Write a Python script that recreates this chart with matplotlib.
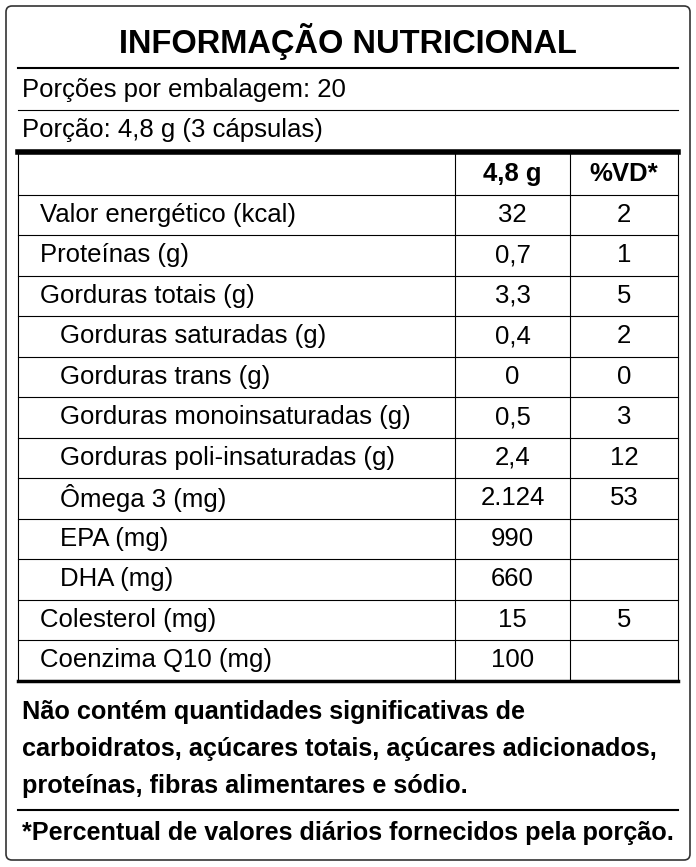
import matplotlib.pyplot as plt
from matplotlib.patches import FancyBboxPatch

plt.rcParams['font.family'] = ['Liberation Sans', 'DejaVu Sans']

title = "INFORMAÇÃO NUTRICIONAL"
servings = "Porções por embalagem: 20"
portion = "Porção: 4,8 g (3 cápsulas)"
headers = ["4,8 g", "%VD*"]
items = ["Valor energético (kcal)", "Proteínas (g)", "Gorduras totais (g)",
         "Gorduras saturadas (g)", "Gorduras trans (g)",
         "Gorduras monoinsaturadas (g)", "Gorduras poli-insaturadas (g)",
         "Ômega 3 (mg)", "EPA (mg)", "DHA (mg)", "Colesterol (mg)",
         "Coenzima Q10 (mg)"]
indent = [1, 1, 1, 2, 2, 2, 2, 2, 3, 3, 1, 1]
amounts = ["32", "0,7", "3,3", "0,4", "0", "0,5", "2,4", "2.124", "990", "660", "15", "100"]
vd = ["2", "1", "5", "2", "0", "3", "12", "53", "", "", "5", ""]
notes = ["Não contém quantidades significativas de",
         "carboidratos, açúcares totais, açúcares adicionados,",
         "proteínas, fibras alimentares e sódio."]
footnote = "*Percentual de valores diários fornecidos pela porção."

W, H = 696, 867
fig = plt.figure(figsize=(W / 100, H / 100), dpi=100)
ax = fig.add_axes([0, 0, 1, 1])
ax.set_xlim(0, W)
ax.set_ylim(H, 0)
ax.axis('off')

ax.add_patch(FancyBboxPatch((6, 6), 684, 854, boxstyle="round,pad=0,rounding_size=6",
                            fill=False, ec='#333333', lw=1.2))

L, R = 18, 678
c1, c2 = 455, 570
fs = 18.5
fsb = 18.2

ax.text(348, 42, title, ha='center', va='center', fontsize=23.5, fontweight='bold')
ax.plot([L, R], [68, 68], color='black', lw=1.5)
ax.text(22, 90, servings, va='center', fontsize=fs)
ax.plot([L, R], [110, 110], color='black', lw=0.8)
ax.text(22, 130, portion, va='center', fontsize=fs)
ax.plot([L, R], [152, 152], color='black', lw=4)

row_h = 40.5
top = 154
ax.text((c1 + c2) / 2, top + row_h / 2, headers[0], ha='center', va='center', fontsize=fs, fontweight='bold')
ax.text((c2 + R) / 2, top + row_h / 2, headers[1], ha='center', va='center', fontsize=fs, fontweight='bold')
ind_x = {1: 40, 2: 60, 3: 60}
for i, name in enumerate(items):
    y0 = top + row_h * (i + 1)
    ax.plot([L, R], [y0, y0], color='black', lw=0.8)
    yc = y0 + row_h / 2
    ax.text(ind_x[indent[i]], yc, name, va='center', fontsize=fs)
    ax.text((c1 + c2) / 2, yc, amounts[i], ha='center', va='center', fontsize=fs)
    ax.text((c2 + R) / 2, yc, vd[i], ha='center', va='center', fontsize=fs)
bottom = top + row_h * (len(items) + 1)
for x in (L, c1, c2, R):
    ax.plot([x, x], [top, bottom], color='black', lw=0.8)
ax.plot([L, R], [bottom, bottom], color='black', lw=2.5)

for j, line in enumerate(notes):
    ax.text(22, 712 + j * 37, line, va='center', fontsize=fsb, fontweight='bold')
ax.plot([L, R], [810, 810], color='black', lw=1.5)
ax.text(22, 833, footnote, va='center', fontsize=fsb, fontweight='bold')

fig.savefig('out.png', dpi=100)
